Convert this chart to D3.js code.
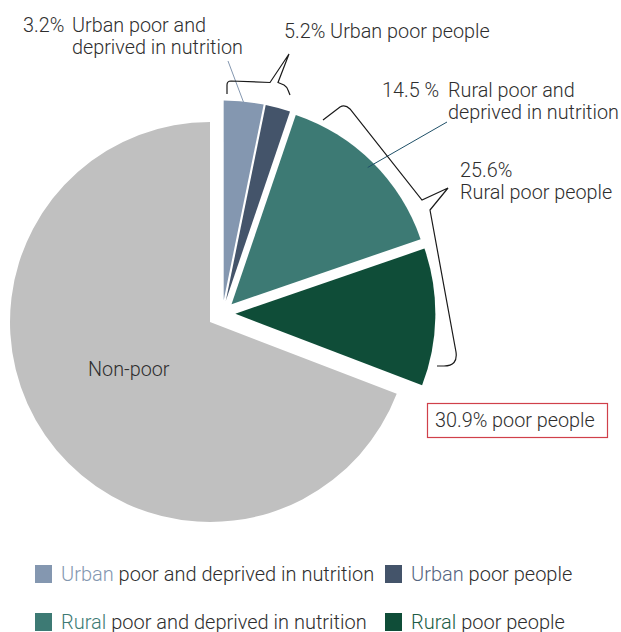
<!DOCTYPE html>
<html>
<head>
<meta charset="utf-8">
<script src="https://cdn.jsdelivr.net/npm/d3@7"></script>
<style>
  html, body { margin: 0; padding: 0; background: #fff; }
  svg { display: block; font-family: Roboto, "Noto Sans", sans-serif; font-weight: 300; }
</style>
</head>
<body>
<svg id="chart" width="621" height="632"></svg>
<script>
// ---- data ----
const categories = ["Urban poor and deprived in nutrition", "Urban poor people", "Rural poor and deprived in nutrition", "Rural poor people", "Non-poor"];
const values = [3.2, 2.0, 14.5, 11.1, 69.1];
const poorFlags = [true, true, true, true, false];
const sliceColors = ["#8497b0", "#44546a", "#3d7a74", "#0f4d38", "#c0c0c0"];
const legendKeys = ["Urban", "Urban", "Rural", "Rural"];
const legendRest = [" poor and deprived in nutrition", " poor people", " poor and deprived in nutrition", " poor people"];
const legendKeyColors = ["#8497b0", "#56657f", "#3d7a74", "#1d5c45"];
const labelPct = ["3.2%", "5.2%", "14.5 %", "25.6%"];
const totalLabel = "30.9% poor people";
const nonPoorLabel = "Non-poor";

// ---- layout ----
const svg = d3.select("#chart");
const cx = 210, cy = 322, R = 200;
const groupOffset = 15, sliceOffset = 13;
const textColor = "#2e2e2e";
const labelSize = "19.8px", legendSize = "20px";

const pie = d3.pie().sort(null).value(d => d);
const arcs = pie(values);
const arc = d3.arc().innerRadius(0).outerRadius(R);

const poorArcs = arcs.filter((a, i) => poorFlags[i]);
const gStart = d3.min(poorArcs, a => a.startAngle), gEnd = d3.max(poorArcs, a => a.endAngle);
const gMid = (gStart + gEnd) / 2;

function offsetOf(a, i) {
  if (!poorFlags[i]) return [0, 0];
  const m = (a.startAngle + a.endAngle) / 2;
  return [groupOffset * Math.sin(gMid) + sliceOffset * Math.sin(m),
          -groupOffset * Math.cos(gMid) - sliceOffset * Math.cos(m)];
}

const pieG = svg.append("g").attr("transform", `translate(${cx},${cy})`);
pieG.selectAll("path.slice").data(arcs).join("path")
  .attr("class", "slice")
  .attr("d", arc)
  .attr("fill", (d, i) => sliceColors[i])
  .attr("transform", (d, i) => { const o = offsetOf(d, i); return `translate(${o[0]},${o[1]})`; });

// slice edge point helper (on exploded slice, at its bisector)
function edgePoint(i, r) {
  const a = arcs[i], o = offsetOf(a, i), m = (a.startAngle + a.endAngle) / 2;
  return [cx + o[0] + r * Math.sin(m), cy + o[1] - r * Math.cos(m)];
}

// ---- annotation lines ----
const ann = svg.append("g").attr("fill", "none");
// leader for urban deprived
const p0 = edgePoint(0, 199);
ann.append("line").attr("x1", cx + 18).attr("y1", cy - 261).attr("x2", p0[0]).attr("y2", p0[1])
  .attr("stroke", "#8497b0").attr("stroke-width", 1);
// leader for rural deprived
const p2 = edgePoint(2, 193);
ann.append("line").attr("x1", cx + 237).attr("y1", cy - 200).attr("x2", p2[0]).attr("y2", p2[1])
  .attr("stroke", "#1f5068").attr("stroke-width", 1);

// brace over urban slices
const P = (dx, dy) => `${cx + dx},${cy + dy}`;
ann.append("path")
  .attr("d", `M${P(17,-228)} L${P(17,-237)} Q${P(17,-241)} ${P(21,-241)} L${P(60,-239.5)} L${P(79,-268)} L${P(68,-239.5)} L${P(74,-237)} Q${P(77,-235)} ${P(78,-232)} L${P(80,-227)}`)
  .attr("stroke", "#1a1a1a").attr("stroke-width", 1.2).attr("stroke-linejoin", "miter");
// brace over rural slices
ann.append("path")
  .attr("d", `M${P(113,-202)} L${P(130,-215)} Q${P(135,-218)} ${P(140,-213)} L${P(212,-122)} L${P(238,-134)} L${P(220,-112)} L${P(246,30)} Q${P(248,44)} ${P(234,44)} L${P(227,44)}`)
  .attr("stroke", "#1a1a1a").attr("stroke-width", 1.2).attr("stroke-linejoin", "miter");

// ---- labels ----
const lab = svg.append("g").attr("fill", textColor).style("font-size", labelSize);
function label(x, y, lines) {
  const t = lab.append("text").attr("x", x).attr("y", y);
  lines.forEach((l, k) => t.append("tspan").attr("x", x).attr("dy", k === 0 ? 0 : 22).text(l));
  return t;
}
lab.append("text").attr("x", 23).attr("y", 32).text(labelPct[0]);
label(72, 32, ["Urban poor and", "deprived in nutrition"]);
lab.append("text").attr("x", 284).attr("y", 38).text(labelPct[1] + " Urban poor people");
lab.append("text").attr("x", 382).attr("y", 97).text(labelPct[2]);
label(448, 97, ["Rural poor and", "deprived in nutrition"]);
label(460, 177, [labelPct[3], "Rural poor people"]);

// total box
svg.append("rect").attr("x", 427.5).attr("y", 403.5).attr("width", 180).attr("height", 34)
  .attr("fill", "#fff").attr("stroke", "#d0404a").attr("stroke-width", 1.2);
svg.append("text").attr("x", 435).attr("y", 427).attr("fill", textColor).style("font-size", labelSize).text(totalLabel);

// non-poor label
svg.append("text").attr("x", cx - 122).attr("y", cy + 54).attr("fill", textColor).style("font-size", labelSize).text(nonPoorLabel);

// ---- legend ----
const legX = [35, 385], legY = [565, 613];
const leg = svg.append("g");
legendKeys.forEach((k, i) => {
  const x = legX[i % 2], y = legY[Math.floor(i / 2)];
  leg.append("rect").attr("x", x).attr("y", y).attr("width", 17).attr("height", 18).attr("fill", sliceColors[i]);
  const t = leg.append("text").attr("x", x + 26).attr("y", y + 16).style("font-size", legendSize);
  t.append("tspan").attr("fill", legendKeyColors[i]).text(k);
  t.append("tspan").attr("fill", textColor).text(legendRest[i]);
});
</script>
</body>
</html>
